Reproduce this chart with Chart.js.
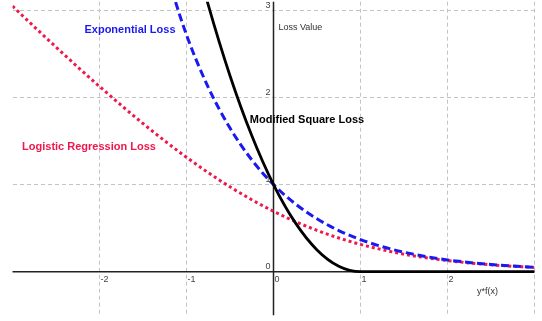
<!DOCTYPE html>
<html>
<head>
<meta charset="utf-8">
<script src="https://cdn.jsdelivr.net/npm/chart.js@4/dist/chart.umd.min.js"></script>
<style>
  html, body { margin: 0; padding: 0; background: #ffffff; }
  #wrap { width: 542px; height: 321px; position: relative; }
</style>
</head>
<body>
<div id="wrap"><canvas id="c"></canvas></div>
<script>
// margin y*f(x), sampled every 0.25
const margins = [-3, -2.75, -2.5, -2.25, -2, -1.75, -1.5, -1.25, -1, -0.75, -0.5, -0.25,
                 0, 0.25, 0.5, 0.75, 1, 1.25, 1.5, 1.75, 2, 2.25, 2.5, 2.75, 3];
// loss values at each margin (null = off the top of the plot)
const logisticLoss = [3.049, 2.812, 2.579, 2.350, 2.127, 1.910, 1.701, 1.502, 1.313, 1.137, 0.974, 0.826,
                      0.693, 0.576, 0.474, 0.387, 0.313, 0.252, 0.201, 0.160, 0.127, 0.100, 0.079, 0.062, 0.049];
const exponentialLoss = [null, null, null, null, null, null, null, 3.490, 2.718, 2.117, 1.649, 1.284,
                         1.000, 0.779, 0.607, 0.472, 0.368, 0.287, 0.223, 0.174, 0.135, 0.105, 0.082, 0.064, 0.050];
const squareLoss = [null, null, null, null, null, null, null, null, 4.000, 3.063, 2.250, 1.563,
                    1.000, 0.563, 0.250, 0.063, 0, 0, 0, 0, 0, 0, 0, 0, 0];
const xTicks = [-2, -1, 0, 1, 2];
const yTicks = [0, 1, 2, 3];

const pts = vals => margins.map((m, i) => ({ x: m, y: vals[i] }));

const curveLabels = [
  { text: 'Exponential Loss', color: '#1a1af0', x: 130, y: 30 },
  { text: 'Modified Square Loss', color: '#000000', x: 307, y: 120 },
  { text: 'Logistic Regression Loss', color: '#f0174b', x: 89, y: 147 }
];

// axes through the origin, tick numbers and axis captions
const originAxes = {
  id: 'originAxes',
  beforeDatasetsDraw(chart) {
    const { ctx, chartArea: a, scales: { x, y } } = chart;
    const x0 = x.getPixelForValue(0), y0 = y.getPixelForValue(0);
    ctx.save();
    ctx.strokeStyle = '#222';
    ctx.lineWidth = 1.5;
    ctx.beginPath();
    ctx.moveTo(a.left, y0); ctx.lineTo(a.right, y0);
    ctx.moveTo(x0, a.top); ctx.lineTo(x0, a.bottom);
    ctx.stroke();
    ctx.restore();
  },
  afterDatasetsDraw(chart) {
    const { ctx, scales: { x, y } } = chart;
    const x0 = x.getPixelForValue(0), y0 = y.getPixelForValue(0);
    ctx.save();
    ctx.font = '9px "Liberation Sans", Arial, sans-serif';
    ctx.fillStyle = '#444';
    ctx.textAlign = 'left';
    ctx.textBaseline = 'top';
    xTicks.forEach(v => ctx.fillText(String(v), x.getPixelForValue(v) + 1, y0 + 3));
    ctx.textAlign = 'right';
    ctx.textBaseline = 'bottom';
    yTicks.forEach(v => ctx.fillText(String(v), x0 - 3, y.getPixelForValue(v) - 0.5));
    ctx.fillStyle = '#333';
    ctx.textAlign = 'left';
    ctx.textBaseline = 'middle';
    ctx.fillText('Loss Value', x0 + 5, 27.5);
    ctx.fillText('y*f(x)', 477, 291.5);
    ctx.font = 'bold 11px "Liberation Sans", Arial, sans-serif';
    ctx.textAlign = 'center';
    curveLabels.forEach(l => { ctx.fillStyle = l.color; ctx.fillText(l.text, l.x, l.y); });
    ctx.restore();
  }
};

new Chart(document.getElementById('c'), {
  type: 'line',
  data: {
    datasets: [
      { label: 'Modified Square Loss', data: pts(squareLoss), borderColor: '#000000',
        borderWidth: 2.8, order: 1 },
      { label: 'Exponential Loss', data: pts(exponentialLoss), borderColor: '#1a1af0',
        borderWidth: 3, borderDash: [8, 4], order: 2 },
      { label: 'Logistic Regression Loss', data: pts(logisticLoss), borderColor: '#f0174b',
        borderWidth: 3, borderDash: [3, 3], order: 3 }
    ]
  },
  options: {
    responsive: true,
    maintainAspectRatio: false,
    animation: false,
    layout: { padding: { left: 12.5, right: 7.5, top: 1.7, bottom: 5.8 } },
    elements: {
      point: { radius: 0, hoverRadius: 0 },
      line: { fill: false, cubicInterpolationMode: 'monotone', borderCapStyle: 'butt' }
    },
    plugins: { legend: { display: false }, tooltip: { enabled: false } },
    scales: {
      x: {
        type: 'linear', min: -3, max: 3,
        afterBuildTicks: s => { s.ticks = [-3, -2, -1, 0, 1, 2, 3].map(v => ({ value: v })); },
        ticks: { display: false },
        border: { display: false, dash: [4, 3] },
        grid: {
          drawTicks: false, tickLength: 0, lineWidth: 1,
          color: c => (c.tick && c.tick.value === -3) ? 'rgba(0,0,0,0)' : '#c4c4c4'
        }
      },
      y: {
        type: 'linear', min: -0.5, max: 3.1,
        afterBuildTicks: s => { s.ticks = [0, 1, 2, 3].map(v => ({ value: v })); },
        ticks: { display: false },
        border: { display: false, dash: [4, 3] },
        grid: { drawTicks: false, tickLength: 0, lineWidth: 1, color: '#c4c4c4' }
      }
    }
  },
  plugins: [originAxes]
});
</script>
</body>
</html>
